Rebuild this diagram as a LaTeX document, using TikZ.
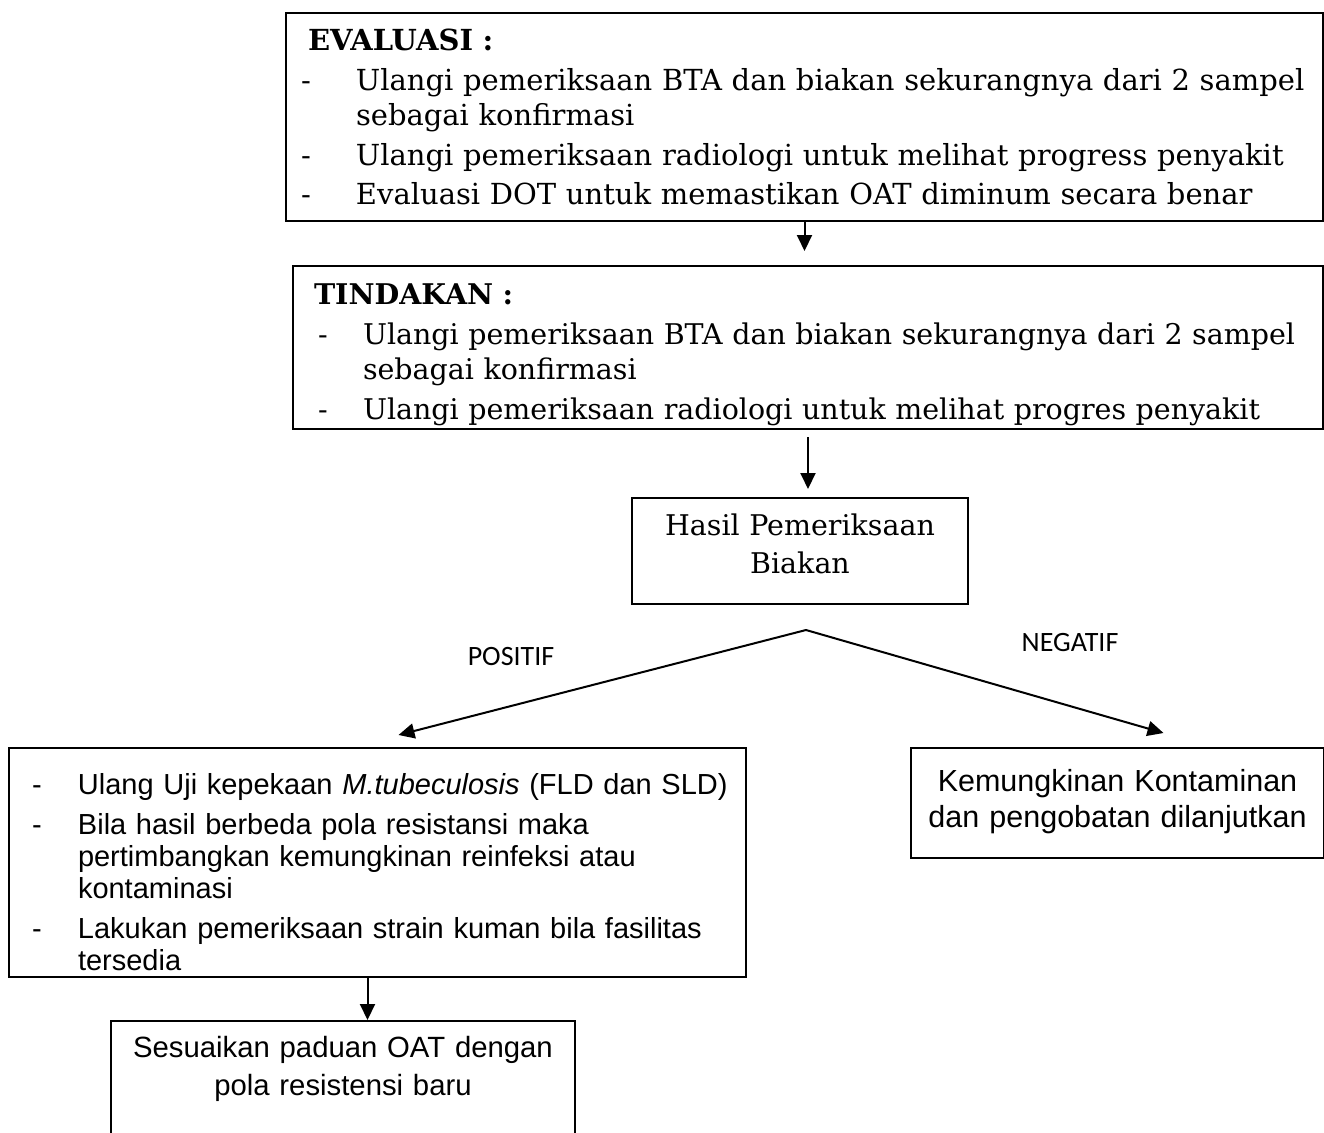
\documentclass[tikz,border=0pt]{standalone}
\usepackage{fontspec}
\setmainfont{DejaVu Serif}
\newfontfamily\arialfont{Liberation Sans}
\newfontfamily\calibfont{Carlito}
\usetikzlibrary{arrows.meta}

%% list item with a dash and hanging indent
\newcommand{\dashitem}[3][0pt]{\par\hangindent=#2\hangafter=1\noindent\makebox[#2][l]{\hspace*{#1}-}#3\par}

\begin{document}
\begin{tikzpicture}[
    x=1pt, y=-1pt,
    box/.style={draw, line width=2pt, anchor=north west, inner sep=0pt},
    listbox/.style={box, align=left, execute at begin node={\setlength{\parskip}{#1}}},
    serif/.style={font=\fontsize{29}{35.5}\selectfont},
    sans/.style={font=\arialfont\fontsize{29}{32}\selectfont},
    lbl/.style={font=\calibfont\fontsize{28}{32}\selectfont},
    arr/.style={-{Triangle[length=16pt,width=15pt]}, line width=2pt}
]
\useasboundingbox (0,0) rectangle (1324,1132);

%% Evaluasi
\node[listbox=4pt, serif, inner xsep=15pt, text width=1007pt,
      minimum width=1037pt, minimum height=208pt] (eval) at (285,12)
  {\hspace*{7pt}\textbf{EVALUASI :}
   \dashitem{55pt}{Ulangi pemeriksaan BTA dan biakan sekurangnya dari 2 sampel\newline sebagai konfirmasi}
   \dashitem{55pt}{Ulangi pemeriksaan radiologi untuk melihat progress penyakit}
   \dashitem{55pt}{Evaluasi DOT untuk memastikan OAT diminum secara benar}};

%% Tindakan
\node[listbox=4pt, serif, font=\fontsize{28.5}{35.5}\selectfont, inner xsep=25pt,
      text width=980pt, minimum width=1030pt, minimum height=163pt] (tind) at (292,265)
  {\hspace*{-4pt}\rule{0pt}{35pt}\textbf{TINDAKAN :}
   \dashitem{45pt}{Ulangi pemeriksaan BTA dan biakan sekurangnya dari 2 sampel\newline sebagai konfirmasi}
   \dashitem{45pt}{Ulangi pemeriksaan radiologi untuk melihat progres penyakit}};

%% Hasil biakan
\node[box, align=center, text width=336pt, minimum width=336pt,
      minimum height=106pt, font=\fontsize{28.5}{38}\selectfont] (hasil) at (631,497)
  {Hasil Pemeriksaan\\Biakan\rule[-14pt]{0pt}{1pt}};

%% Cabang positif / negatif
\node[listbox=8pt, sans, inner xsep=8pt, text width=721pt,
      minimum width=737pt, minimum height=229pt] (pos) at (8,747)
  {\dashitem[15pt]{61pt}{Ulang Uji kepekaan \textit{M.tubeculosis} (FLD dan SLD)}
   \dashitem[15pt]{61pt}{Bila hasil berbeda pola resistansi maka\newline pertimbangkan kemungkinan reinfeksi atau\newline kontaminasi}
   \dashitem[15pt]{61pt}{Lakukan pemeriksaan strain kuman bila fasilitas\newline tersedia}};

\node[box, align=center, text width=413pt, minimum width=413pt,
      minimum height=110pt, font=\arialfont\fontsize{30.5}{36}\selectfont] (neg) at (910,747)
  {Kemungkinan Kontaminan\\dan pengobatan dilanjutkan\rule[-10pt]{0pt}{1pt}};

\node[box, align=center, text width=464pt, inner ysep=15pt,
      font=\arialfont\fontsize{29.3}{38}\selectfont] (sesuai) at (110,1020)
  {Sesuaikan paduan OAT dengan\\pola resistensi baru\\[100pt]\mbox{}};

%% Label cabang
\node[lbl] (lpos) at (511,657) {POSITIF};
\node[lbl] (lneg) at (1070,643) {NEGATIF};

%% Panah
\coordinate (fork) at ([xshift=6pt,yshift=-25pt]hasil.south);
\draw[arr, shorten >=14pt] (eval.south) -- (eval.south |- tind.north);
\draw[arr, shorten <=7pt, shorten >=8pt] (tind.south) -- (tind.south |- hasil.north);
\draw[arr] (fork) -- ([xshift=21pt,yshift=12pt]pos.north);
\draw[arr] (fork) -- ([xshift=46pt,yshift=14pt]neg.north);
\draw[arr] ([xshift=-10pt]pos.south) -- ([xshift=-10pt]pos.south |- sesuai.north);

\end{tikzpicture}
\end{document}
